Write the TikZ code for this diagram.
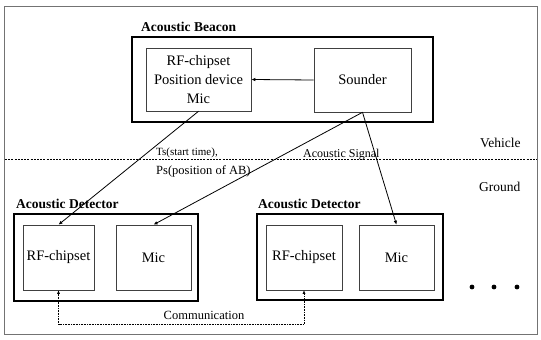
\documentclass[tikz,border=0pt]{standalone}
\usepackage{fontspec}
\setmainfont{Liberation Serif}
\usetikzlibrary{arrows.meta}
\begin{document}
\begin{tikzpicture}[x=1pt,y=-1pt,
  outerbox/.style={draw, line width=1.6pt, inner sep=0pt},
  innerbox/.style={draw=black!75, line width=0.6pt, inner sep=0pt, align=center, font=\fontsize{14.5}{19}\selectfont},
  title/.style={anchor=base west, inner sep=0pt, font=\fontsize{13.5}{16}\selectfont\bfseries},
  lbl/.style={anchor=base west, inner sep=0pt, font=\fontsize{13.5}{16}\selectfont},
  elbl/.style={anchor=base west, inner sep=0pt, font=\fontsize{11}{13}\selectfont},
  conn/.style={line width=0.8pt, -{Latex[length=4pt,width=3.5pt]}},
  comm/.style={line width=0.6pt, densely dotted, {Latex[length=3.5pt,width=3pt]}-{Latex[length=3.5pt,width=3pt]}}
]
\useasboundingbox (0,0) rectangle (541,340);
% frame
\draw[black!55, line width=0.5pt] (4,6) rectangle (537,334);
% beacon
\node[outerbox, minimum width=301pt, minimum height=85pt] (beacon) at (282.5,79.5) {};
\node[title] (beacontitle) at (141,31) {Acoustic Beacon};
\node[innerbox, minimum width=105pt, minimum height=63pt] (rfb) at (198.5,79.5) {RF-chipset\\Position device\\Mic};
\node[innerbox, minimum width=97pt, minimum height=64pt] (sounder) at (362.5,80) {Sounder};
% vehicle / ground
\coordinate (vgl) at (5,159);
\coordinate (vgr) at (537,159);
\draw[line width=0.5pt, dash pattern=on 2pt off 1.2pt] (vgl) -- (vgr);
\node[lbl] (vehicle) at (480,147) {Vehicle};
\node[lbl] (ground) at (479,191) {Ground};
% detector 1
\node[outerbox, minimum width=184pt, minimum height=87pt] (det1) at (106,257.5) {};
\node[title] (det1title) at (16,208) {Acoustic Detector};
\node[innerbox, minimum width=71pt, minimum height=65pt] (rf1) at (58.5,257.5) {RF-chipset};
\node[innerbox, minimum width=75pt, minimum height=65pt] (mic1) at (153.5,257.5) {Mic};
% detector 2
\node[outerbox, minimum width=186pt, minimum height=86pt] (det2) at (350,257) {};
\node[title] (det2title) at (258,208) {Acoustic Detector};
\node[innerbox, minimum width=76pt, minimum height=65pt] (rf2) at (304,257.5) {RF-chipset};
\node[innerbox, minimum width=75pt, minimum height=65pt] (mic2) at (396.5,257.5) {Mic};
% connectors
\draw[conn] (sounder.west) -- (rfb.east);
\draw[conn] (rfb.south) -- (rf1.north);
\draw[conn] (sounder.south) -- (mic1.north);
\draw[conn] (sounder.south) -- (mic2.north);
\draw[comm] (rf1.south) -- ++(0,34) -| (rf2.south);
% edge labels
\node[elbl] (ts) at (156,155.5) {Ts(start time),};
\node[elbl, font=\fontsize{12.5}{14}\selectfont] (ps) at (156,174) {Ps(position of AB)};
\node[elbl, font=\fontsize{12}{14}\selectfont] (sig) at (303,157) {Acoustic Signal};
\node[anchor=base, inner sep=0pt, font=\fontsize{12.5}{15}\selectfont] (commlbl) at (204,319) {Communication};
% dots
\fill (472,287) circle (2.4pt);
\fill (494,287) circle (2.4pt);
\fill (517,287) circle (2.4pt);
\end{tikzpicture}
\end{document}
